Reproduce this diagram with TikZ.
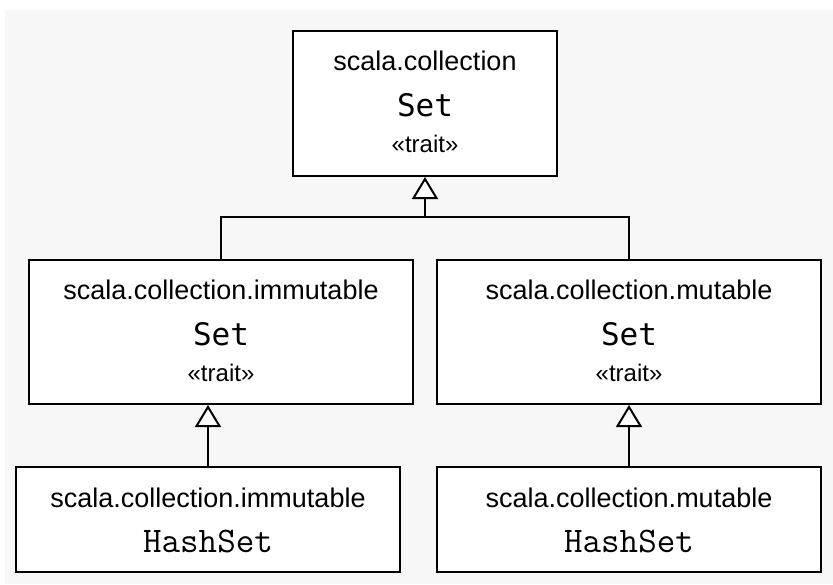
\documentclass[tikz,border=0pt]{standalone}
\usepackage{fontspec}
\setmainfont{Liberation Sans}
\newfontfamily\codefont{DejaVu Sans Mono}
\usetikzlibrary{arrows.meta}
\definecolor{bgGray}{HTML}{F7F7F7}
\tikzset{
  box/.style={draw, line width=1pt, fill=white, inner sep=0pt},
  pkg/.style={anchor=base, font=\fontsize{13.5}{16}\selectfont},
  cls/.style={anchor=base, font=\codefont\fontsize{15.5}{18}\selectfont},
  hashcls/.style={anchor=base, font=\ttfamily\fontsize{18}{21}\selectfont},
  stereo/.style={anchor=base, font=\fontsize{12}{14}\selectfont},
  inherit/.style={line width=1pt, -{Triangle[open, fill=white, length=11pt, width=13pt]}}
}
\begin{document}
\begin{tikzpicture}[x=0.5pt, y=-0.5pt]
\useasboundingbox (0,0) rectangle (833,584);
\fill[bgGray] (5,10) rectangle (833,584);
% class boxes
\node[box, minimum width=132pt, minimum height=72.5pt] (top) at (425,103.5) {};
\node[box, minimum width=192pt, minimum height=72pt] (immSet) at (221,332) {};
\node[box, minimum width=192pt, minimum height=72pt] (mutSet) at (629,332) {};
\node[box, minimum width=192pt, minimum height=52.5pt] (immHash) at (208,519.5) {};
\node[box, minimum width=192pt, minimum height=52.5pt] (mutHash) at (629,519.5) {};
% labels
\foreach \b/\p in {top/scala.collection, immSet/scala.collection.immutable, mutSet/scala.collection.mutable}{
  \node[pkg] (\b-pkg) at ([yshift=-20pt]\b.north) {\p};
  \node[cls] (\b-name) at ([yshift=-43pt]\b.north) {Set};
  \node[stereo] (\b-kind) at ([yshift=-61pt]\b.north) {«trait»};
}
\foreach \b/\p in {immHash/scala.collection.immutable, mutHash/scala.collection.mutable}{
  \node[pkg] (\b-pkg) at ([yshift=-20.5pt]\b.north) {\p};
  \node[hashcls] (\b-name) at ([yshift=-43pt]\b.north) {HashSet};
}
% inheritance
\coordinate (bar) at (0,217);
\draw[line width=1pt] (immSet.north) |- (bar -| top.south) -| (mutSet.north);
\draw[inherit] (bar -| top.south) -- (top.south);
\draw[inherit] (immHash.north) -- (immHash.north |- immSet.south);
\draw[inherit] (mutHash.north) -- (mutSet.south);
\end{tikzpicture}
\end{document}
